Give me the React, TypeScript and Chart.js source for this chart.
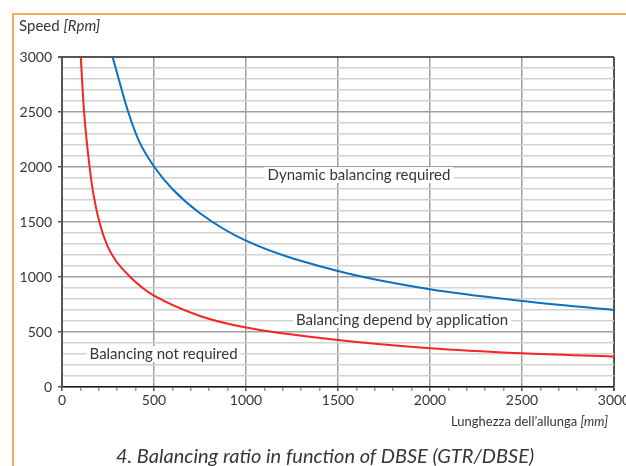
import React, { useEffect, useRef } from 'react';
import { Chart, registerables } from 'chart.js';

Chart.register(...registerables);

// Curve "Balancing not required" limit (red)
const lengthsLow = [102, 120, 150, 170, 203, 245, 290, 371, 435, 500, 750, 1000, 1500, 2000, 2500, 3000];
const speedsLow = [3000, 2500, 2000, 1760, 1500, 1290, 1155, 1000, 905, 830, 645, 540, 427, 352, 306, 276];
// Curve "Dynamic balancing required" limit (blue)
const lengthsHigh = [275, 360, 420, 502, 600, 750, 1000, 1500, 2000, 2500, 3000];
const speedsHigh = [3000, 2500, 2230, 2000, 1800, 1580, 1330, 1054, 888, 782, 700];

const xTickLabels = ['0', '500', '1000', '1500', '2000', '2500', '3000'];
const yTickLabels = ['0', '500', '1000', '1500', '2000', '2500', '3000'];

const regionLabels = ['Dynamic balancing required', 'Balancing depend by application', 'Balancing not required'];
const regionLabelLengths = [1614, 1848, 552];
const regionLabelSpeeds = [1927, 609, 300];

const chartTitle = '4. Balancing ratio in function of DBSE (GTR/DBSE)';

const FONT = 'Lato, "Open Sans", sans-serif';
const TEXT = '#363636';

const regionLabelPlugin = {
  id: 'regionLabels',
  beforeDatasetsDraw(chart: any) {
    const { ctx, scales } = chart;
    const x = scales.x;
    const y = scales.y;
    ctx.save();
    ctx.font = '15px ' + FONT;
    ctx.textAlign = 'center';
    ctx.textBaseline = 'middle';
    regionLabels.forEach((t, i) => {
      const px = x.getPixelForValue(regionLabelLengths[i]);
      const py = y.getPixelForValue(regionLabelSpeeds[i]);
      const w = ctx.measureText(t).width;
      ctx.fillStyle = '#ffffff';
      ctx.fillRect(px - w / 2 - 3, py - 8, w + 6, 16);
      ctx.fillStyle = TEXT;
      ctx.fillText(t, px, py);
    });
    ctx.restore();
  },
};

export default function App() {
  const ref = useRef<HTMLCanvasElement | null>(null);

  useEffect(() => {
    document.body.style.overflow = 'hidden';
    const canvas = ref.current;
    if (!canvas) return;
    const chart = new Chart(canvas, {
      type: 'line',
      data: {
        datasets: [
          {
            label: 'Dynamic',
            data: lengthsHigh.map((l, i) => ({ x: l, y: speedsHigh[i] })),
            borderColor: '#0a72c0',
            borderWidth: 2,
            pointRadius: 0,
            cubicInterpolationMode: 'monotone',
            fill: false,
          },
          {
            label: 'Not required',
            data: lengthsLow.map((l, i) => ({ x: l, y: speedsLow[i] })),
            borderColor: '#f52525',
            borderWidth: 2,
            pointRadius: 0,
            cubicInterpolationMode: 'monotone',
            fill: false,
          },
        ],
      },
      options: {
        responsive: false,
        animation: false,
        layout: { padding: { left: 0, top: 57, right: 26, bottom: 0 } },
        plugins: { legend: { display: false }, tooltip: { enabled: false }, title: { display: false } },
        scales: {
          x: {
            type: 'linear',
            min: 0,
            max: 3000,
            ticks: {
              stepSize: 100,
              autoSkip: false,
              maxRotation: 0,
              padding: 1,
              color: TEXT,
              font: { family: FONT, size: 14 },
              callback: (v: any) => (xTickLabels.includes(String(v)) ? String(v) : ''),
            },
            grid: {
              color: (c: any) => {
                const v = c.tick ? c.tick.value : 0;
                if (v === 3000) return '#555555';
                return v % 500 === 0 ? '#a0a0a0' : 'rgba(0,0,0,0)';
              },
              lineWidth: (c: any) => {
                const v = c.tick ? c.tick.value : 0;
                return v === 3000 ? 2 : 1.5;
              },
              tickColor: (c: any) => {
                const v = c.tick ? c.tick.value : 0;
                return v % 500 === 0 ? '#555555' : '#9a9a9a';
              },
              tickLength: 4,
            },
            border: { color: '#1a1a1a', width: 1.5 },
            afterFit: (s: any) => {
              s.height = 79;
            },
          },
          y: {
            type: 'linear',
            min: 0,
            max: 3000,
            ticks: {
              stepSize: 100,
              autoSkip: false,
              padding: 6,
              color: TEXT,
              font: { family: FONT, size: 14 },
              callback: (v: any) => (yTickLabels.includes(String(v)) ? String(v) : ''),
            },
            grid: {
              color: (c: any) => {
                const v = c.tick ? c.tick.value : 0;
                if (v === 3000) return '#555555';
                return v % 500 === 0 ? '#a0a0a0' : '#d2d2d2';
              },
              lineWidth: (c: any) => {
                const v = c.tick ? c.tick.value : 0;
                return v === 3000 ? 2 : 1.5;
              },
              tickColor: (c: any) => {
                const v = c.tick ? c.tick.value : 0;
                return v % 500 === 0 ? '#555555' : 'rgba(0,0,0,0)';
              },
              tickLength: 4,
            },
            border: { color: '#555555', width: 2 },
            afterFit: (s: any) => {
              s.width = 62;
            },
          },
        },
      },
      plugins: [regionLabelPlugin],
    } as any);
    return () => chart.destroy();
  }, []);

  return (
    <div
      style={{
        position: 'fixed',
        left: 0,
        top: 0,
        width: 640,
        height: 466,
        overflow: 'hidden',
        background: '#ffffff',
        fontFamily: FONT,
        color: TEXT,
      }}
    >
      <canvas ref={ref} width={640} height={466} style={{ position: 'absolute', left: 0, top: 0 }} />
      <div
        style={{
          position: 'absolute',
          left: 12,
          top: 13,
          width: 700,
          height: 600,
          borderTop: '2px solid #f5ad62',
          borderLeft: '2px solid #f5ad62',
          pointerEvents: 'none',
        }}
      />
      <div style={{ position: 'absolute', left: 19, top: 18, fontSize: 15, lineHeight: '15px', whiteSpace: 'nowrap' }}>
        Speed <i>[Rpm]</i>
      </div>
      <div
        style={{
          position: 'absolute',
          right: 32,
          top: 414,
          fontSize: 13,
          lineHeight: '14px',
          whiteSpace: 'nowrap',
          textAlign: 'right',
        }}
      >
        Lunghezza dell’allunga <i>[mm]</i>
      </div>
      <div
        style={{
          position: 'absolute',
          left: 0,
          width: 650,
          top: 445,
          fontSize: 20,
          lineHeight: '20px',
          fontStyle: 'italic',
          textAlign: 'center',
          whiteSpace: 'nowrap',
        }}
      >
        {chartTitle}
      </div>
    </div>
  );
}
